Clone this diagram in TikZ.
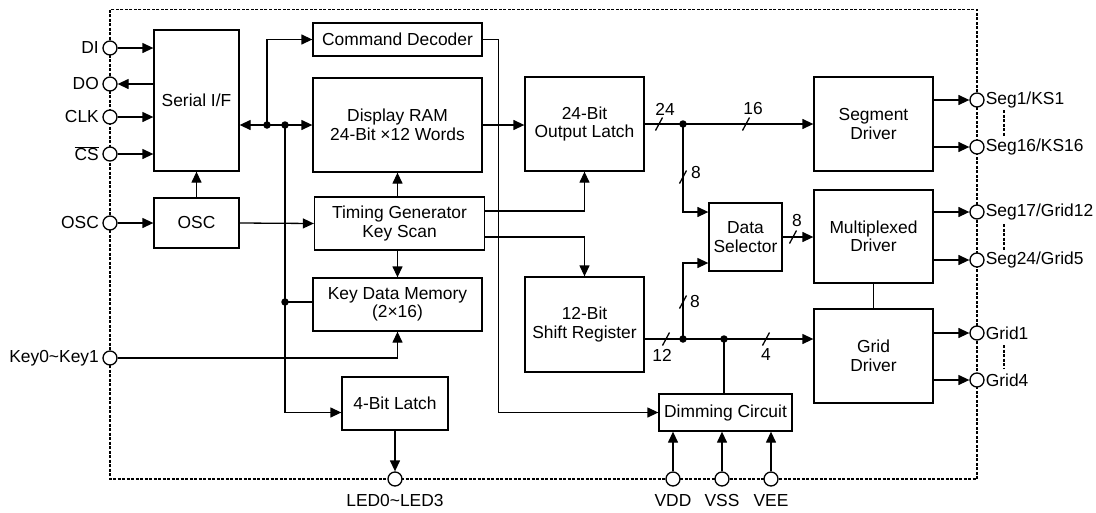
\documentclass[tikz,border=0pt]{standalone}
\usepackage{fontspec}
\setmainfont{Liberation Sans}
\usetikzlibrary{arrows.meta}
\tikzset{block/.style = {draw, fill=white, line width=1.3pt, rectangle, inner sep=0pt, align=center},
         pin/.style = {draw, fill=white, line width=1.3pt, circle, minimum size=14pt, inner sep=0pt},
         wire/.style = {line width=1.3pt},
         sig/.style = {wire, -{Triangle[length=11pt,width=10pt]}},
         bus/.style = {wire, {Triangle[length=11pt,width=10pt]}-{Triangle[length=11pt,width=10pt]}},
         dot/.style = {fill, circle, minimum size=7.5pt, inner sep=0pt},
         outline/.style = {line width=1.2pt, dash pattern=on 3pt off 1.5pt}}

\begin{document}
\begin{tikzpicture}[x=1pt,y=-1pt,font=\fontsize{17.4}{18.5}\selectfont]
    \useasboundingbox(0,0)rectangle(1096,512);
    % chip outline
    \draw[outline](110,9.5)rectangle(977,479);
    % blocks
    \node[block,minimum width=85pt,minimum height=141pt](serial)at(196.5,100.5){Serial I/F};
    \node[block,minimum width=85pt,minimum height=50pt](osc)at(196.5,223){OSC};
    \node[block,minimum width=169pt,minimum height=33pt](cmd)at(397.5,39.5){Command Decoder};
    \node[block,minimum width=169pt,minimum height=94pt](ram)at(397.5,125){Display RAM\\24-Bit ×12 Words};
    \node[block,minimum width=170pt,minimum height=53pt](timing)at(399.5,223.5){Timing Generator\\Key Scan};
    \node[block,minimum width=169pt,minimum height=53pt](kdm)at(397.5,304.5){Key Data Memory\\(2×16)};
    \node[block,minimum width=106pt,minimum height=53pt](latch)at(395,403.5){4-Bit Latch};
    \node[block,minimum width=119pt,minimum height=94pt](olatch)at(584.5,124){24-Bit\\Output Latch};
    \node[block,minimum width=119pt,minimum height=95pt](shift)at(584.5,324.5){12-Bit\\Shift Register};
    \node[block,minimum width=73pt,minimum height=68pt](dsel)at(745.5,237){Data\\Selector};
    \node[block,minimum width=119pt,minimum height=94pt](seg)at(873.5,124){Segment\\Driver};
    \node[block,minimum width=119pt,minimum height=93pt](mux)at(873.5,236.5){Multiplexed\\Driver};
    \node[block,minimum width=119pt,minimum height=94pt](grid)at(873.5,356){Grid\\Driver};
    \node[block,minimum width=133pt,minimum height=37pt](dim)at(725.5,412.5){Dimming Circuit};
    % pins
    \node[pin,label={left:DI}](pdi)at(110,48){};
    \node[pin,label={left:DO}](pdo)at(110,84){};
    \node[pin,label={left:CLK}](pclk)at(110,117){};
    \node[pin,label={left:$\overline{\hbox{CS}}$}](pcs)at(110,154){};
    \node[pin,label={left:OSC}](posc)at(110,223){};
    \node[pin,label={left:Key0\textasciitilde Key1}](pkey)at(110,358){};
    \node[pin,label={[label distance=4pt]below:LED0\textasciitilde LED3}](pled)at(395,479){};
    \node[pin,label={[label distance=4pt]below:VDD}](pvdd)at(673,479){};
    \node[pin,label={[label distance=4pt]below:VSS}](pvss)at(722,479){};
    \node[pin,label={[label distance=4pt]below:VEE}](pvee)at(771,479){};
    \node[pin,label={[inner sep=1pt]right:Seg1/KS1}](pseg1)at(977,100){};
    \node[pin,label={[inner sep=1pt]right:Seg16/KS16}](pseg16)at(977,147){};
    \node[pin,label={[inner sep=1pt]right:Seg17/Grid12}](pseg17)at(977,212){};
    \node[pin,label={[inner sep=1pt]right:Seg24/Grid5}](pseg24)at(977,260){};
    \node[pin,label={[inner sep=1pt]right:Grid1}](pgrid1)at(977,333){};
    \node[pin,label={[inner sep=1pt]right:Grid4}](pgrid4)at(977,380){};
    % pin ranges
    \draw[outline](1004,110)--(1004,137);
    \draw[outline](1004,224)--(1004,250);
    \draw[outline](1004,345)--(1004,369);
    % serial side
    \draw[sig](pdi)--(pdi-|serial.west);
    \draw[sig](pdo-|serial.west)--(pdo);
    \draw[sig](pclk)--(pclk-|serial.west);
    \draw[sig](pcs)--(pcs-|serial.west);
    \draw[sig](posc)--(osc.west);
    \draw[sig](osc.north)--(serial.south);
    \draw[sig](osc.east)--(timing.west);
    \draw[bus](serial.east|-ram.west)--(ram.west);
    \node[dot](j1)at(267,125){};
    \node[dot](j2)at(285,125){};
    \node[dot](j3)at(285,302){};
    \draw[sig](j1.center)|-(cmd.west);
    \draw[sig](j2.center)|-(latch.west|-dim.west);
    \draw[wire](j3.center)--(j3-|kdm.west);
    \draw[sig](ram.south|-timing.north)--(ram.south);
    \draw[sig](timing.south-|kdm.north)--(kdm.north);
    \draw[sig](pkey)-|(kdm.south);
    \draw[sig](latch.south)--(pled);
    \draw[sig](cmd.east)--++(16,0)|-(dim.west);
    \draw[sig]([yshift=12.5pt]timing.east)-|(olatch.south);
    \draw[sig]([yshift=-13.5pt]timing.east)-|(shift.north);
    % data path
    \draw[sig](ram.east)--(ram.east-|olatch.west);
    \draw[sig](olatch.east)--(seg.west);
    \node[dot](j4)at(683,124){};
    \node[dot](j5)at(683,339){};
    \node[dot](j6)at(724,339){};
    \draw[sig](j4.center)|-([yshift=25pt]dsel.west);
    \draw[sig](j5.center)|-([yshift=-26pt]dsel.west);
    \draw[sig](dsel.east)--(dsel.east-|mux.west);
    \draw[sig](shift.east|-j5)--(grid.west|-j5);
    \draw[wire](j6.center)--(j6|-dim.north);
    \draw[wire](mux.south)--(grid.north);
    \draw[sig](pvdd)--(pvdd|-dim.south);
    \draw[sig](pvss)--(pvss|-dim.south);
    \draw[sig](pvee)--(pvee|-dim.south);
    % outputs
    \draw[sig](pseg1-|seg.east)--(pseg1);
    \draw[sig](pseg16-|seg.east)--(pseg16);
    \draw[sig](pseg17-|mux.east)--(pseg17);
    \draw[sig](pseg24-|mux.east)--(pseg24);
    \draw[sig](pgrid1-|grid.east)--(pgrid1);
    \draw[sig](pgrid4-|grid.east)--(pgrid4);
    % bus widths
    \draw[wire](655.5,130.5)--(662.5,117.5); \node(w24)at(665,109){24};
    \draw[wire](742.5,130.5)--(749.5,117.5); \node(w16)at(753,109){16};
    \draw[wire](679.5,183.5)--(686.5,170.5); \node(w8a)at(696,173){8};
    \draw[wire](789.5,243.5)--(796.5,230.5); \node(w8b)at(797,221){8};
    \draw[wire](662.5,345.5)--(669.5,332.5); \node(w12)at(662,355){12};
    \draw[wire](679.5,308.5)--(686.5,295.5); \node(w8c)at(695,302){8};
    \draw[wire](762.5,345.5)--(769.5,332.5); \node(w4)at(766,355){4};
\end{tikzpicture}
\end{document}
